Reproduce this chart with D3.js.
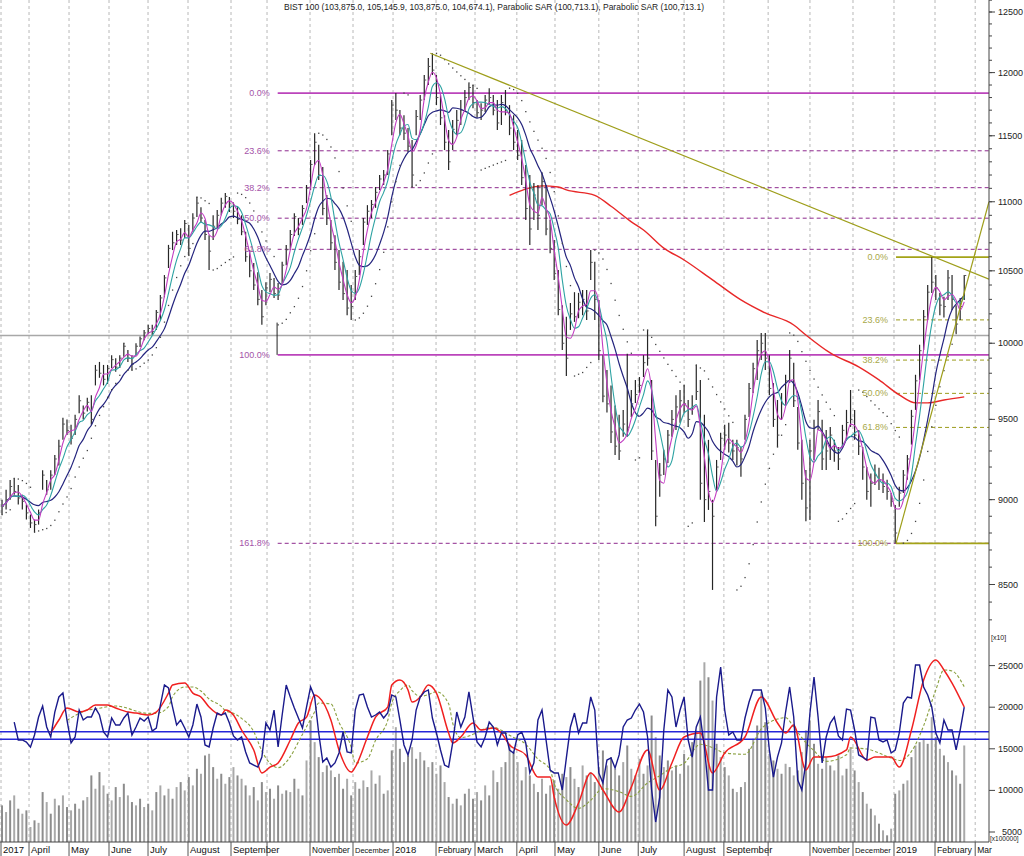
<!DOCTYPE html>
<html>
<head>
<meta charset="utf-8">
<script src="https://cdn.jsdelivr.net/npm/d3@7"></script>
<style>
  body { margin: 0; background: #fff; }
  svg { display: block; font-family: "Liberation Sans", Arial, sans-serif; }
</style>
</head>
<body>
<div id="graph"></div>
<script>
// BIST 100 (divided by 10), one bar per ~2 sessions
var high = [8999,9060,9120,9130,9090,9030,8970,8910,8880,8940,
  9180,9120,9180,9275,9370,9510,9500,9465,9530,9655,
  9590,9640,9655,9855,9875,9855,9855,9920,9900,9920,
  10000,9955,9920,10000,10045,10090,10125,10125,10227,10330,
  10470,10685,10780,10793,10805,10866,10830,10915,11035,10960,
  10866,10755,10900,10939,11030,11065,11035,10995,10960,10900,
  10780,10648,10555,10490,10365,10420,10485,10450,10415,10565,
  10685,10793,10915,10880,10975,11125,11314,11520,11430,11260,
  11050,10866,10755,10648,10565,10506,10400,10506,10648,10880,
  10975,11013,11110,11200,11238,11390,11780,11836,11701,11660,
  11560,11467,11701,11820,11980,12118,12157,11980,11820,11660,
  11545,11623,11701,11780,11860,11915,11900,11780,11755,11820,
  11875,11820,11780,11820,11860,11740,11660,11545,11467,11276,
  11200,11140,11125,11220,11125,10866,10720,10506,10260,10180,
  10275,10350,10345,10365,10365,10648,10565,10296,9920,9822,
  9720,9590,9530,9561,9930,9690,9756,9775,9920,10090,
  9756,9244,9225,9307,9433,9561,9655,9690,9720,9625,
  9655,9855,9756,9530,9370,8999,9244,9415,9465,9478,
  9370,9370,9325,9530,9735,9870,10022,10070,10070,9920,
  9735,9625,9670,9790,9955,9870,9580,9370,9182,9370,
  9497,9625,9497,9433,9452,9370,9325,9465,9561,9690,
  9561,9433,9325,9200,9160,9215,9195,9160,9121,9040,
  8968,9078,9182,9275,9561,9790,9990,10227,10400,10597,
  10470,10345,10318,10506,10470,10260,10310,10470];
var low = [8910,8940,9000,9030,8970,8940,8880,8830,8805,8850,
  9060,9030,9060,9150,9210,9370,9400,9340,9400,9540,
  9500,9550,9465,9720,9770,9720,9730,9835,9810,9835,
  9910,9875,9820,9920,9975,10020,10060,10055,10090,10160,
  10315,10520,10648,10685,10685,10735,10610,10780,10888,10850,
  10720,10506,10720,10815,10900,10955,10925,10880,10835,10755,
  10565,10455,10365,10260,10125,10260,10350,10310,10296,10400,
  10540,10648,10750,10755,10830,10990,11088,11276,11162,10900,
  10830,10648,10506,10365,10296,10190,10158,10296,10470,10685,
  10830,10880,10955,11088,11125,11200,11505,11623,11505,11467,
  11375,11110,11505,11623,11780,11900,11980,11740,11584,11390,
  11238,11390,11505,11584,11685,11780,11715,11640,11623,11685,
  11740,11660,11545,11584,11660,11505,11390,11314,11125,10866,
  10685,10866,10793,10975,10755,10625,10436,10190,9955,9782,
  10090,10145,10170,10190,10158,10436,10158,9888,9610,9545,
  9350,9275,9244,9390,9390,9515,9605,9670,9775,9850,
  9244,8840,9017,9150,9225,9390,9433,9478,9540,9452,
  9530,9625,8999,8865,8938,8469,9059,9244,9307,9290,
  9244,9210,9140,9370,9515,9670,9756,9888,9822,9655,
  9452,9325,9497,9590,9735,9580,9307,8999,8870,8878,
  9244,9433,9182,9182,9244,9232,9182,9325,9370,9452,
  9370,9275,9121,8999,8957,9090,9059,9040,8999,8957,
  8740,8957,9040,9121,9340,9561,9756,9955,10158,10345,
  10296,10190,10175,10296,10227,10070,10158,10296];
var close = [8960,9000,9080,9050,9010,8990,8920,8860,8850,8920,
  9150,9060,9150,9250,9330,9470,9430,9380,9500,9620,
  9540,9610,9500,9820,9800,9760,9830,9890,9840,9900,
  9980,9900,9860,9980,10030,10070,10100,10080,10210,10310,
  10450,10660,10700,10760,10720,10840,10660,10880,10990,10880,
  10760,10640,10820,10900,10990,11040,10990,10930,10870,10780,
  10600,10500,10400,10300,10180,10380,10440,10340,10330,10540,
  10650,10760,10890,10800,10950,11100,11280,11450,11200,10950,
  10880,10700,10560,10420,10340,10240,10250,10460,10600,10850,
  10930,10980,11070,11170,11200,11360,11740,11700,11560,11520,
  11420,11200,11650,11780,11940,12050,12020,11800,11640,11450,
  11300,11550,11620,11700,11800,11880,11760,11680,11700,11780,
  11800,11700,11600,11760,11700,11560,11450,11350,11180,10950,
  10800,11050,10900,11150,10800,10660,10480,10230,10000,9900,
  10200,10180,10280,10300,10220,10560,10300,9950,9650,9600,
  9420,9330,9300,9470,9450,9600,9660,9720,9870,9900,
  9300,8900,9150,9250,9400,9500,9580,9620,9600,9500,
  9580,9680,9100,9000,9050,8900,9200,9380,9400,9350,
  9300,9320,9250,9500,9700,9830,9950,10000,9900,9700,
  9500,9400,9600,9750,9900,9620,9350,9100,8950,9300,
  9450,9550,9250,9300,9400,9300,9250,9430,9480,9500,
  9400,9330,9200,9050,9100,9150,9120,9080,9050,8990,
  8800,9040,9150,9250,9520,9750,9950,10180,10350,10420,
  10380,10260,10250,10450,10300,10130,10250,10467];
// volume (axis units x100000)
var volume = [8200,7400,8800,9400,7800,7200,7600,5600,6400,6100,
  9800,8600,7200,9000,8200,9400,8000,7600,8400,7800,
  8800,9200,11800,10200,12200,10600,9600,8800,10400,9200,
  10800,9400,8600,8200,9000,8000,8400,7600,9800,10600,
  9400,10200,9000,10400,11000,10000,11600,10600,12600,12000,
  14200,14400,12800,11400,12000,10800,11600,12800,11800,11400,
  10600,9400,10400,8800,11000,9800,10200,9000,10600,9600,
  10000,9800,11400,10200,9400,13600,18400,15800,14000,12200,
  13000,12400,11600,12000,10200,11400,9400,11000,10200,11200,
  10400,12400,10800,11800,9600,10000,14800,17600,15000,13400,
  14200,15200,13800,14600,13600,12800,13400,12000,13000,11000,
  9200,8400,9000,8200,9600,10200,9000,9800,8800,10600,
  9400,12400,11000,12800,13400,15600,14600,13400,11200,12800,
  11800,10800,9800,11400,9600,10600,11200,10200,12000,11600,
  12800,11400,10400,13000,11800,12200,11000,12800,14800,13000,
  14000,12600,11800,13400,15400,12600,11800,13800,12000,13000,
  19000,16400,14200,12800,13600,12400,13000,12000,14400,13000,
  15800,17200,23200,25400,23600,20800,15600,14000,12800,11800,
  10200,9800,10400,11000,15000,16200,17800,21800,18200,14400,
  13600,12600,12000,13200,12800,11800,12400,14600,17200,18400,
  15600,13200,12600,14000,13000,12400,14200,11800,12600,15200,
  12400,11000,9800,8400,7800,7000,6000,5200,4600,5400,
  9600,10000,10800,11200,14000,15400,15800,16200,15600,18800,
  16400,15000,14200,13400,12400,11800,10800,15400];
// blue oscillator in the lower panel (axis units x10)
var osc = [null,null,null,18200,16060,16060,15800,15200,16660,18820,
  20140,17620,16420,19420,21230,21700,18460,15700,16420,19660,
  18460,18820,18820,19900,19060,17020,16420,18700,17860,17860,
  18700,19300,16660,17620,18700,18340,18820,17140,17500,20260,
  22670,22310,20020,17860,18460,17500,16420,17860,20380,18820,
  15460,15220,17500,19300,19060,19300,18100,16540,16060,16420,
  14620,13300,13050,12800,14000,18100,17260,19660,15220,19060,
  22670,21230,19900,18700,17500,20020,22430,21230,16900,13400,
  13900,12800,13300,14500,17020,14620,14500,19660,21470,21590,
  20020,18820,19060,19420,18700,19300,21470,21230,18460,15460,
  14260,16060,19660,21230,21830,22070,18700,16900,14860,13050,
  12800,15700,19420,17620,18820,21830,18820,15820,15220,16420,
  18220,17620,15460,16900,16900,14860,14500,16660,17020,15700,
  12100,13300,18460,19660,16060,12450,12100,12100,10050,13900,
  17620,19300,16900,18100,18100,21230,19660,12100,10900,13650,
  13900,12700,14260,17620,18460,18700,19660,20380,19420,16420,
  10050,6200,9200,17260,22070,21230,17620,19660,21230,16060,
  14000,17620,18820,15220,10050,10050,21230,24830,19660,16660,
  17020,16060,16060,18700,20620,22070,22070,22070,19900,14860,
  11600,14000,15700,19420,22430,18820,11250,10050,13400,19300,
  23630,18820,13300,16420,18100,18820,16540,16060,19780,19660,
  17260,14260,14000,13650,18820,18700,16060,15820,16060,14500,
  14860,16900,20500,21230,21100,25070,25070,22430,21470,20020,
  16900,15700,18460,17260,17260,14860,17260,20000];
// red signal line of the oscillator: [bar, value]
var oscSignal = [[12,16900],[14,18460],[16,19900],[19,19420],[21,19660],[23,20260],[26,20260],[28,19900],
  [31,19420],[33,19300],[36,19060],[38,19420],[41,21700],[42,22670],[45,22900],[47,21700],[49,21230],
  [51,20020],[54,19060],[55,19660],[57,19060],[59,17260],[62,14860],[64,12100],[66,12800],[68,13300],
  [71,16060],[73,18100],[75,18800],[77,21470],[78,21230],[81,18460],[83,14860],[86,12200],[87,12800],
  [90,16420],[92,18820],[95,20020],[96,22670],[98,23270],[100,22070],[101,20620],[103,21230],[105,22670],
  [107,21700],[110,16900],[111,15700],[113,16420],[116,18100],[118,17260],[121,17500],[123,16900],
  [125,15460],[129,14260],[132,11600],[135,11600],[136,9200],[139,5840],[142,8490],[145,12100],
  [148,10050],[152,7400],[155,10400],[159,14860],[162,10050],[165,13300],[168,16420],[172,16900],
  [175,12100],[178,14500],[183,16420],[187,21230],[191,18100],[193,16900],[195,17860],[198,12450],
  [200,14000],[203,14000],[208,14860],[209,16420],[213,13650],[215,14000],[219,14000],[221,12800],
  [224,17260],[227,23270],[230,25680],[232,24470],[234,22900],[237,20020]];
var oscBands = [17050, 16150];
// long moving average drawn on price: [bar, value]
var longMA = [[125,11048],[130,11103],[133,11118],[137,11110],[139,11088],[146,11048],[150,10967],
  [155,10852],[158,10793],[163,10662],[168,10577],[175,10436],[182,10296],[188,10206],[195,10124],
  [198,10056],[204,9935],[211,9842],[216,9756],[221,9658],[225,9606],[228,9606],[232,9625],[237,9645]];

// month boundaries, in bar units
var monthPos = [-0.25,6.65,16.5,26.35,35.96,45.81,56.4,65.27,75.86,86.45,96.31,106.9,116.5,
  126.8,136.2,147.0,156.7,168.0,177.8,188.7,199.0,209.6,219.7,229.8,239.7];
var monthLabels = ["2017","April","May","June","July","August","September","","November","December",
  "2018","February","March","April","May","June","July","August","September","","November",
  "December","2019","February","Mar"];

var priceTicks = [8500,9000,9500,10000,10500,11000,11500,12000,12500];
var volTicks = [5000,10000,15000,20000,25000];

var fibLevelsA = [0,23.6,38.2,50,61.8,100,161.8];
var fibA = {bar: 67.9, top: 11836, bottom: 9922};
var fibLevelsB = [0,23.6,38.2,50,61.8,100];
var fibB = {bar: 220.2, top: 10597, bottom: 8739};
var trendDown = [[105.5,12157],[243.1,10441]];
var trendUp = [[220.2,8739],[243.1,11000]];
var anchorLine = [[67.75,10140],[67.75,9922]];
var supportLevel = 10052;

var W = 1024, H = 856, right = 989;
var priceBottom = 630, volTop = 632, volBottom = 842;

var x = d3.scaleLinear().domain([-0.5, 243.1]).range([0, right]);
var y = d3.scaleLog().domain([8500, 12500]).range([584.5, 12]);
var yv = d3.scaleLinear().domain([5000, 25000]).range([832, 665.6]);

function sma(a, n) {
  return a.map(function(d, i) { return d3.mean(a.slice(Math.max(0, i - n + 1), i + 1)); });
}

function psar(hi, lo) {
  var out = [null], up = true, af = 0.02, ep = hi[0], sar = lo[0];
  for (var i = 1; i < hi.length; i++) {
    sar = sar + af * (ep - sar);
    if (up) {
      sar = Math.min(sar, lo[i - 1], lo[Math.max(0, i - 2)]);
      if (lo[i] < sar) { up = false; sar = ep; ep = lo[i]; af = 0.02; }
      else if (hi[i] > ep) { ep = hi[i]; af = Math.min(af + 0.02, 0.2); }
    } else {
      sar = Math.max(sar, hi[i - 1], hi[Math.max(0, i - 2)]);
      if (hi[i] > sar) { up = true; sar = ep; ep = hi[i]; af = 0.02; }
      else if (lo[i] < ep) { ep = lo[i]; af = Math.min(af + 0.02, 0.2); }
    }
    out.push(sar);
  }
  return out;
}

var svg = d3.select('#graph').append('svg').attr('width', W).attr('height', H);
var defs = svg.append('defs');
defs.append('clipPath').attr('id', 'pclip').append('rect')
  .attr('x', 0).attr('y', 0).attr('width', right).attr('height', priceBottom);
defs.append('clipPath').attr('id', 'vclip').append('rect')
  .attr('x', 0).attr('y', volTop).attr('width', right).attr('height', volBottom - volTop);

// vertical month grid
svg.append('g').selectAll('line').data(monthPos).join('line')
  .attr('x1', function(d) { return x(d); }).attr('x2', function(d) { return x(d); })
  .attr('y1', 0).attr('y2', volBottom)
  .attr('stroke', '#b8b8b8').attr('stroke-dasharray', '3,3');

var pg = svg.append('g').attr('clip-path', 'url(#pclip)');
var vg = svg.append('g').attr('clip-path', 'url(#vclip)');

// support line
pg.append('line').attr('x1', 0).attr('x2', right)
  .attr('y1', y(supportLevel)).attr('y2', y(supportLevel))
  .attr('stroke', '#a8a8a8').attr('stroke-width', 1.6);

// fibonacci retracements
function fib(levels, f, lineCol, dashCol, textCol) {
  levels.forEach(function(p) {
    var v = f.top - (f.top - f.bottom) * p / 100;
    var solid = (p === 0 || p === 100);
    pg.append('line').attr('x1', x(f.bar)).attr('x2', right)
      .attr('y1', y(v)).attr('y2', y(v))
      .attr('stroke', solid ? lineCol : dashCol)
      .attr('stroke-width', solid ? 1.7 : 1)
      .attr('stroke-dasharray', solid ? null : '4,3');
    svg.append('text').attr('x', x(f.bar) - 8).attr('y', y(v) + 3)
      .attr('text-anchor', 'end').attr('font-size', 9).attr('fill', textCol)
      .text(p.toFixed(1) + '%');
  });
}
fib(fibLevelsA, fibA, '#bb44bb', '#8e2a8e', '#a452a8');
fib(fibLevelsB, fibB, '#a3a317', '#9c9c1c', '#a8a848');

pg.append('line')
  .attr('x1', x(anchorLine[0][0])).attr('y1', y(anchorLine[0][1]))
  .attr('x2', x(anchorLine[1][0])).attr('y2', y(anchorLine[1][1]))
  .attr('stroke', '#222');

// volume bars
vg.append('g').selectAll('line').data(volume).join('line')
  .attr('x1', function(d, i) { return x(i); }).attr('x2', function(d, i) { return x(i); })
  .attr('y1', volBottom).attr('y2', function(d) { return yv(d); })
  .attr('stroke', function(d, i) { return i % 2 ? '#a9a9a9' : '#8c8c8c'; })
  .attr('stroke-width', 2);

// oscillator bands
vg.selectAll('.band').data(oscBands).join('line').attr('class', 'band')
  .attr('x1', 0).attr('x2', right)
  .attr('y1', function(d) { return yv(d); }).attr('y2', function(d) { return yv(d); })
  .attr('stroke', '#2626d8').attr('stroke-width', 1.5);

// oscillator signal (red) and its smoothing (dashed)
var sigLine = d3.line().x(function(d) { return x(d[0]); }).y(function(d) { return yv(d[1]); })
  .curve(d3.curveMonotoneX);
var sigVals = oscSignal.map(function(d) { return d[1]; });
var sigSmooth = sma(sigVals, 3).map(function(v, k) { return [oscSignal[k][0], v]; }).slice(2);
vg.append('path').datum(sigSmooth).attr('d', sigLine)
  .attr('fill', 'none').attr('stroke', '#8aa040').attr('stroke-width', 1.1).attr('stroke-dasharray', '3,2');
vg.append('path').datum(oscSignal).attr('d', sigLine)
  .attr('fill', 'none').attr('stroke', '#f02020').attr('stroke-width', 1.5);

// oscillator (blue)
var oscLine = d3.line().defined(function(d) { return d != null; })
  .x(function(d, i) { return x(i); }).y(function(d) { return yv(d); });
vg.append('path').datum(osc).attr('d', oscLine)
  .attr('fill', 'none').attr('stroke', '#1a1a8c').attr('stroke-width', 1.4);

// long MA on price
pg.append('path').datum(longMA)
  .attr('d', d3.line().x(function(d) { return x(d[0]); }).y(function(d) { return y(d[1]); }).curve(d3.curveMonotoneX))
  .attr('fill', 'none').attr('stroke', '#e82828').attr('stroke-width', 1.4);

// price bars
var bars = pg.append('g');
bars.selectAll('.hl').data(close).join('line').attr('class', 'hl')
  .attr('x1', function(d, i) { return x(i); }).attr('x2', function(d, i) { return x(i); })
  .attr('y1', function(d, i) { return y(high[i]); }).attr('y2', function(d, i) { return y(low[i]); })
  .attr('stroke', '#262626').attr('stroke-width', 1.2);
bars.selectAll('.cl').data(close).join('line').attr('class', 'cl')
  .attr('x1', function(d, i) { return x(i); }).attr('x2', function(d, i) { return x(i) + 2; })
  .attr('y1', function(d) { return y(d); }).attr('y2', function(d) { return y(d); })
  .attr('stroke', '#555');

// moving averages
function maLine(vals, col, w) {
  pg.append('path').datum(vals)
    .attr('d', d3.line().x(function(d, i) { return x(i); }).y(function(d) { return y(d); }).curve(d3.curveMonotoneX))
    .attr('fill', 'none').attr('stroke', col).attr('stroke-width', w);
}
maLine(sma(close, 10), '#24247e', 1.2);
maLine(sma(close, 5), '#2ea3a3', 1.1);
maLine(sma(close, 3), '#c23cc2', 1.1);

// parabolic SAR
var sar = psar(high, low);
pg.append('g').selectAll('rect').data(sar).join('rect')
  .filter(function(d, i) { return i > 1; })
  .attr('x', function(d, i) { return x(i) - 0.6; }).attr('y', function(d) { return y(d) - 0.6; })
  .attr('width', 1.3).attr('height', 1.3).attr('fill', '#444');

// trendlines
[trendDown, trendUp].forEach(function(t) {
  pg.append('line')
    .attr('x1', x(t[0][0])).attr('y1', y(t[0][1]))
    .attr('x2', x(t[1][0])).attr('y2', y(t[1][1]))
    .attr('stroke', '#9e9e1a').attr('stroke-width', 1.2);
});

// right axes
svg.append('line').attr('x1', right).attr('x2', right).attr('y1', 0).attr('y2', volBottom).attr('stroke', '#444');
var minor = d3.range(8300, 12700, 100);
svg.append('g').selectAll('line').data(minor).join('line')
  .attr('x1', right).attr('x2', right + 3)
  .attr('y1', function(d) { return y(d); }).attr('y2', function(d) { return y(d); })
  .attr('stroke', '#444');
svg.append('g').selectAll('line').data(priceTicks).join('line')
  .attr('x1', right).attr('x2', right + 6)
  .attr('y1', function(d) { return y(d); }).attr('y2', function(d) { return y(d); })
  .attr('stroke', '#444');
svg.append('g').selectAll('text').data(priceTicks).join('text')
  .attr('x', right + 9).attr('y', function(d) { return y(d) + 3; })
  .attr('font-size', 9).attr('fill', '#222').text(function(d) { return d; });

svg.append('g').selectAll('line').data(volTicks).join('line')
  .attr('x1', right).attr('x2', right + 6)
  .attr('y1', function(d) { return yv(d); }).attr('y2', function(d) { return yv(d); })
  .attr('stroke', '#444');
svg.append('g').selectAll('text').data(volTicks).join('text')
  .attr('x', function(d) { return d < 10000 ? right + 13 : right + 9; })
  .attr('y', function(d) { return yv(d) + 3; })
  .attr('font-size', 9).attr('fill', '#222').text(function(d) { return d; });
svg.append('text').attr('x', right + 2).attr('y', 640).attr('font-size', 7).attr('fill', '#222').text('[x10]');
svg.append('text').attr('x', right + 1).attr('y', 841).attr('font-size', 6.5).attr('fill', '#222').text('[x100000]');

// bottom date axis
svg.append('line').attr('x1', 0).attr('x2', right).attr('y1', volBottom).attr('y2', volBottom).attr('stroke', '#444');
monthPos.forEach(function(m, k) {
  var x0 = x(m);
  var next = k + 1;
  while (next < monthPos.length && monthLabels[next] === '') next++;
  var x1 = next < monthPos.length ? x(monthPos[next]) : right + 6;
  svg.append('line').attr('x1', x0).attr('x2', x0).attr('y1', volBottom).attr('y2', H).attr('stroke', '#555');
  if (!monthLabels[k]) return;
  var fs = 9.5;
  var t = svg.append('text').attr('x', x0 + 2).attr('y', 853).attr('font-size', fs).attr('fill', '#111')
    .text(monthLabels[k]);
  var avail = x1 - x0 - 5;
  var len = t.node().getComputedTextLength();
  if (len > avail) t.attr('font-size', Math.floor(fs * avail / len * 10) / 10);
});

// title
svg.append('text').attr('x', 284).attr('y', 9.5).attr('font-size', 8.5).attr('fill', '#222')
  .attr('textLength', 420).attr('lengthAdjust', 'spacingAndGlyphs')
  .text('BIST 100 (103,875.0, 105,145.9, 103,875.0, 104,674.1), Parabolic SAR (100,713.1), Parabolic SAR (100,713.1)');
</script>
</body>
</html>
